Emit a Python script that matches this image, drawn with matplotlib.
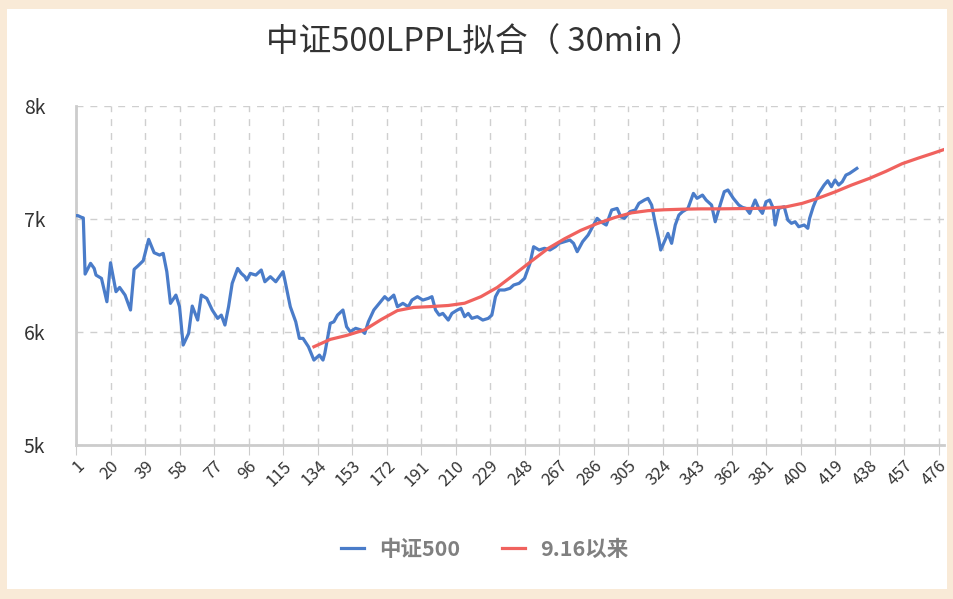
import matplotlib
matplotlib.use("Agg")
import matplotlib.pyplot as plt
from matplotlib.patches import Rectangle
from matplotlib.ticker import FuncFormatter

plt.rcParams['font.family'] = ['Noto Sans CJK SC', 'DejaVu Sans']

# 中证500 (30min bars)
csi_x = [1, 2, 4, 5, 6, 9, 11, 12, 15, 18, 20, 23, 25, 28, 31, 33, 35, 38, 41, 44,
         47, 49, 51, 53, 56, 58, 60, 63, 65, 68, 70, 73, 76, 79, 81, 83, 85, 87, 90, 92,
         94, 95, 97, 100, 103, 105, 108, 111, 115, 116, 119, 122, 124, 126, 129, 132, 135, 137, 138, 141,
         143, 145, 148, 150, 152, 155, 158, 160, 162, 165, 168, 171, 173, 176, 178, 181, 184, 186, 189, 192,
         195, 197, 199, 201, 203, 206, 208, 211, 213, 215, 217, 219, 222, 225, 228, 230, 232, 234, 237, 240,
         242, 245, 248, 251, 253, 256, 259, 262, 265, 267, 270, 273, 275, 277, 280, 283, 286, 288, 290, 293,
         296, 299, 301, 303, 306, 309, 311, 314, 316, 318, 320, 322, 323, 325, 327, 329, 331, 333, 335, 338,
         341, 343, 346, 348, 351, 353, 356, 358, 360, 363, 366, 368, 370, 372, 375, 377, 379, 381, 383, 385,
         386, 388, 391, 393, 395, 397, 399, 402, 404, 405, 407, 410, 413, 415, 417, 419, 421, 423, 425, 427,
         431]
csi_y = [7030, 7030, 7015, 7010, 6513, 6608, 6563, 6504, 6475, 6268, 6613, 6357, 6395, 6327, 6195, 6555, 6584, 6631, 6820, 6702,
         6681, 6696, 6534, 6254, 6327, 6224, 5885, 5988, 6230, 6106, 6327, 6298, 6195, 6121, 6150, 6062, 6224, 6431, 6563, 6519,
         6490, 6460, 6519, 6504, 6549, 6445, 6490, 6445, 6534, 6460, 6224, 6091, 5944, 5944, 5870, 5752, 5796, 5752, 5811, 6077,
         6091, 6150, 6195, 6047, 6003, 6033, 6018, 5988, 6091, 6195, 6254, 6313, 6283, 6327, 6224, 6254, 6224, 6283, 6313, 6283,
         6298, 6313, 6195, 6150, 6165, 6106, 6165, 6195, 6210, 6136, 6165, 6121, 6136, 6106, 6121, 6150, 6313, 6372, 6372, 6387,
         6416, 6431, 6475, 6608, 6755, 6726, 6741, 6726, 6755, 6785, 6800, 6814, 6785, 6711, 6800, 6858, 6947, 7006, 6976, 6947,
         7080, 7094, 7020, 7006, 7065, 7080, 7139, 7168, 7183, 7124, 6962, 6814, 6726, 6800, 6873, 6785, 6947, 7035, 7065, 7094,
         7227, 7183, 7212, 7168, 7124, 6976, 7139, 7242, 7257, 7183, 7124, 7103, 7094, 7050, 7168, 7094, 7050, 7153, 7168, 7094,
         6947, 7094, 7109, 6991, 6962, 6976, 6932, 6947, 6918, 7006, 7109, 7227, 7301, 7339, 7286, 7345, 7301, 7330, 7389, 7404,
         7448]

# LPPL fit since 9.16
fit_x = [132, 141, 150, 160, 169, 178, 187, 196, 206, 215, 224, 233, 242, 252, 261, 270, 279, 288, 298, 307,
         316, 325, 335, 345, 355, 365, 375, 383, 392, 401, 409, 419, 428, 438, 447, 456, 465, 473, 479]
fit_y = [5870, 5935, 5970, 6020, 6110, 6190, 6218, 6225, 6235, 6255, 6313, 6395, 6505, 6630, 6740, 6825, 6900, 6960, 7015, 7055,
         7074, 7082, 7087, 7090, 7090, 7092, 7094, 7098, 7108, 7139, 7180, 7240, 7300, 7360, 7422, 7490, 7540, 7582, 7615]

xticks = list(range(1, 477, 19))

fig = plt.figure(figsize=(9.54, 5.99), dpi=100, facecolor='#f9ead7')
fig.patches.append(Rectangle((0.007, 0.016), 0.986, 0.969, transform=fig.transFigure,
                             facecolor='white', edgecolor='none', zorder=-10))

ax = fig.add_axes([0.0797, 0.257, 0.9098, 0.566])
ax.set_facecolor('white')

ax.plot(csi_x, csi_y, color='#4a7cc9', lw=2.3, label='中证500', zorder=3)
ax.plot(fit_x, fit_y, color='#f0625e', lw=2.3, label='9.16以来', zorder=4)

ax.set_xlim(1, 479)
ax.set_ylim(5000, 8000)
ax.set_yticks([5000, 6000, 7000, 8000])
ax.yaxis.set_major_formatter(FuncFormatter(lambda v, p: f'{int(v/1000)}k'))
ax.set_xticks(xticks)
ax.set_xticklabels([str(t) for t in xticks], rotation=45, ha='right', rotation_mode='anchor')

ax.grid(True, ls=(0, (5, 5)), color='#cfcfcf', lw=1)
ax.set_axisbelow(True)
for s in ['top', 'right']:
    ax.spines[s].set_visible(False)
ax.spines['left'].set_color('#cccccc')
ax.spines['left'].set_linewidth(2)
ax.spines['bottom'].set_color('#cccccc')
ax.spines['bottom'].set_linewidth(2)
ax.tick_params(axis='x', length=7, color='#cccccc', labelsize=12, labelcolor='#333333', pad=2)
ax.tick_params(axis='y', length=0, labelsize=14, labelcolor='#333333', pad=22)

fig.text(0.508, 0.928, '中证500LPPL拟合（ 30min ）', ha='center', va='center',
         fontsize=23.5, color='#333333')

leg = fig.legend(loc='center', bbox_to_anchor=(0.508, 0.083), ncol=2, frameon=False,
                 handlelength=1.1, handletextpad=0.7, columnspacing=1.9,
                 prop={'size': 15.5, 'weight': 'bold'})
for t in leg.get_texts():
    t.set_color('#808080')

fig.savefig('out.png', dpi=100, facecolor=fig.get_facecolor())
